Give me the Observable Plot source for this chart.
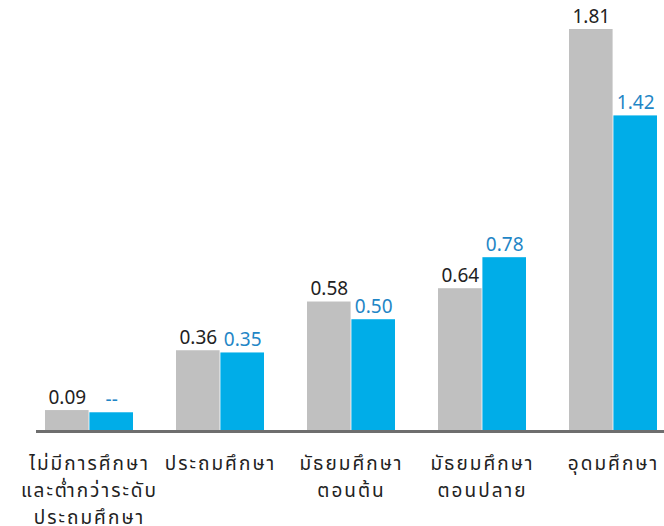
<!DOCTYPE html>
<html>
<head>
<meta charset="utf-8">
<script src="https://cdn.jsdelivr.net/npm/d3@7"></script>
<script src="https://cdn.jsdelivr.net/npm/@observablehq/plot@0.6"></script>
<style>
  html, body { margin: 0; padding: 0; background: #fff; }
  #chart svg { display: block; }
</style>
</head>
<body>
<div id="chart"></div>
<script>
const categories = [
  "ไม่มีการศึกษา\nและต่ำกว่าระดับ\nประถมศึกษา",
  "ประถมศึกษา",
  "มัธยมศึกษา\nตอนต้น",
  "มัธยมศึกษา\nตอนปลาย",
  "อุดมศึกษา"
];
const greyValues = [0.09, 0.36, 0.58, 0.64, 1.81];
const greyLabels = ["0.09", "0.36", "0.58", "0.64", "1.81"];
const blueValues = [0.08, 0.35, 0.50, 0.78, 1.42];
const blueLabels = ["--", "0.35", "0.50", "0.78", "1.42"];

const grey = categories.map((c, i) => ({cat: c, v: greyValues[i], label: greyLabels[i]}));
const blue = categories.map((c, i) => ({cat: c, v: blueValues[i], label: blueLabels[i]}));

const W = 664, H = 526;
const half = 44.4;      // half band width (style)
const quarter = 22.2;

const font = "'Noto Sans Thai', 'Noto Sans', 'DejaVu Sans', sans-serif";

const chart = Plot.plot({
  width: W,
  height: H,
  marginLeft: 36,
  marginRight: 0,
  marginTop: 29,
  marginBottom: 96,
  style: {fontFamily: font, background: "#fff"},
  x: {domain: categories, paddingInner: 0.326, paddingOuter: 0.0455, align: 0.583, axis: null},
  y: {domain: [0, 1.81], axis: null},
  marks: [
    Plot.barY(grey, {x: "cat", y: "v", fill: "#c0c0c0", insetRight: half}),
    Plot.barY(blue, {x: "cat", y: "v", fill: "#00ade8", insetLeft: half}),
    Plot.ruleY([0], {stroke: "#6e6e6e", strokeWidth: 3, dy: 1}),
    Plot.text(grey, {x: "cat", y: "v", text: "label", dx: -quarter, dy: -7, lineAnchor: "bottom", fontSize: 19, fill: "#222"}),
    Plot.text(blue, {x: "cat", y: "v", text: "label", dx: quarter, dy: -7, lineAnchor: "bottom", fontSize: 19, fill: "#1f86c6"}),
    Plot.text(categories, {x: d => d, y: () => 0, text: d => d, dy: 20, lineAnchor: "top", lineHeight: 1.42, fontSize: 19, fill: "#222"})
  ]
});
const textGroups = chart.querySelectorAll('g[aria-label="text"]');
if (textGroups.length) {
  const last = textGroups[textGroups.length - 1];
  last.setAttribute("letter-spacing", "2");
}
document.getElementById("chart").appendChild(chart);
</script>
</body>
</html>
